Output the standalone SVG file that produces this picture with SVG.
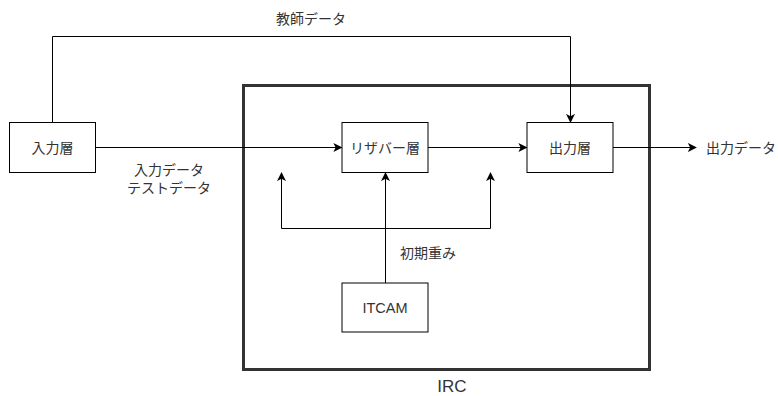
<svg xmlns="http://www.w3.org/2000/svg" width="778" height="396" viewBox="0 0 778 396">
<style>
  .box { fill: #ffffff; stroke: #000000; stroke-width: 1; }
  .frame { fill: none; stroke: #333333; stroke-width: 3; }
  .edge { fill: none; stroke: #000000; stroke-width: 1; }
  text { font-family: "Liberation Sans", "Noto Sans CJK JP", sans-serif; font-size: 14px; fill: #333333; }
  .c { text-anchor: middle; dominant-baseline: central; }
</style>
<defs>
  <marker id="arr" viewBox="0 0 10 10" refX="9" refY="5" markerWidth="9" markerHeight="9" markerUnits="userSpaceOnUse" orient="auto">
    <path d="M0,0 L10,5 L0,10 L2.5,5 Z" fill="#000000"/>
  </marker>
</defs>
<rect x="0" y="0" width="778" height="396" fill="#ffffff"/>
<g id="irc">
  <rect class="frame" x="243.5" y="85.5" width="406" height="284"/>
  <text x="452" y="392" text-anchor="middle" style="font-size:17px">IRC</text>
</g>
<g id="connectors">
  <path class="edge" d="M52.5,122.5 V36.5 H570.5 V122" marker-end="url(#arr)"/>
  <text class="c" x="311" y="19">教師データ</text>
  <path class="edge" d="M96,147.5 H341.5" marker-end="url(#arr)"/>
  <text class="c" x="169" y="170">入力データ</text>
  <text class="c" x="169" y="188">テストデータ</text>
  <path class="edge" d="M428,147.5 H526.5" marker-end="url(#arr)"/>
  <path class="edge" d="M613,147.5 H696" marker-end="url(#arr)"/>
  <text x="706" y="152.5">出力データ</text>
  <path class="edge" d="M385.5,283 V173" marker-end="url(#arr)"/>
  <path class="edge" d="M385.5,228.5 H281.5 V173" marker-end="url(#arr)"/>
  <path class="edge" d="M385.5,228.5 H490.5 V173" marker-end="url(#arr)"/>
  <text x="400" y="258">初期重み</text>
</g>
<g id="input-layer">
  <rect class="box" x="9.5" y="122.5" width="86" height="50"/>
  <text class="c" x="52.5" y="147.5">入力層</text>
</g>
<g id="reservoir-layer">
  <rect class="box" x="342" y="122.5" width="86" height="50"/>
  <text class="c" x="385" y="147.5">リザバー層</text>
</g>
<g id="output-layer">
  <rect class="box" x="527" y="122.5" width="86" height="50"/>
  <text class="c" x="570" y="147.5">出力層</text>
</g>
<g id="itcam">
  <rect class="box" x="342" y="283" width="86" height="49"/>
  <text class="c" x="385" y="307.5" style="font-size:14.5px">ITCAM</text>
</g>
</svg>
